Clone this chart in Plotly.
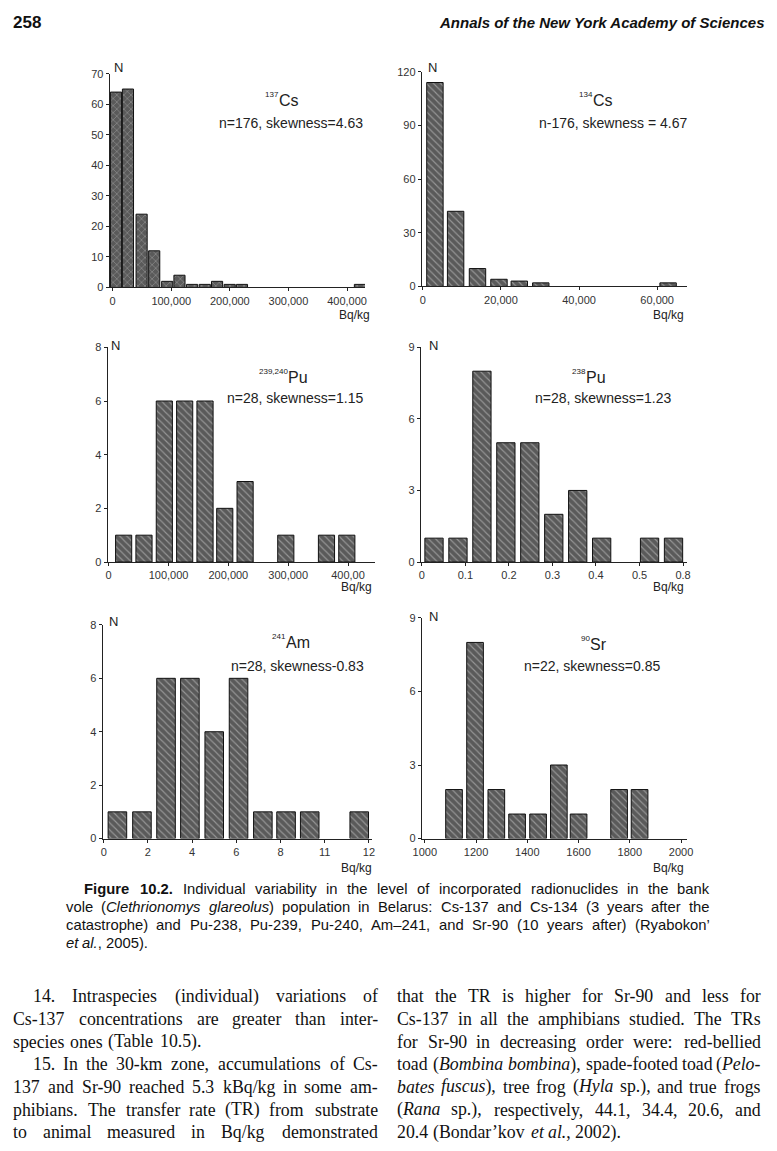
import re
import plotly.graph_objects as go

# page is 777x1151; the html body keeps an 8px margin, so the figure is drawn 16px smaller
PAGE_W, PAGE_H = 777, 1151
OX, OY = 8, 8
W, H = PAGE_W - 2 * OX, PAGE_H - 2 * OY
# measured placement of the rendered page inside the photograph (screen = C + S * page)
SX, CX = 0.983, 8.2
SY, CY = 0.991, 5.2

# ---------------- data ----------------
cs137_x = [5700, 26100, 49400, 70900, 93100, 114000, 135600, 157200, 178200, 199700, 220700, 422000]
cs137_n = [64, 65, 24, 12, 2, 4, 1, 1, 2, 1, 1, 1]
cs137_xticks = [0, 100000, 200000, 300000, 400000]
cs137_xlabels = ["0", "100,000", "200,000", "300,000", "400,000"]
cs137_yticks = [0, 10, 20, 30, 40, 50, 60, 70]

cs134_x = [3100, 8400, 14000, 19500, 24700, 30200, 62800]
cs134_n = [114, 42, 10, 4, 3, 2, 2]
cs134_xticks = [0, 20000, 40000, 60000]
cs134_xlabels = ["0", "20,000", "40,000", "60,000"]
cs134_yticks = [0, 30, 60, 90, 120]

pu239_x = [25000, 59000, 93000, 127000, 161000, 194000, 228000, 296000, 364000, 398000]
pu239_n = [1, 1, 6, 6, 6, 2, 3, 1, 1, 1]
pu239_xticks = [0, 100000, 200000, 300000, 400000]
pu239_xlabels = ["0", "100,000", "200,000", "300,000", "400,00"]
pu239_yticks = [0, 2, 4, 6, 8]

pu238_x = [0.028, 0.083, 0.138, 0.193, 0.248, 0.303, 0.358, 0.413, 0.523, 0.578]
pu238_n = [1, 1, 8, 5, 5, 2, 3, 1, 1, 1]
pu238_xticks = [0, 0.1, 0.2, 0.3, 0.4, 0.5, 0.6]
pu238_xlabels = ["0", "0.1", "0.2", "0.3", "0.4", "0.5", "0.8"]
pu238_yticks = [0, 3, 6, 9]

am241_x = [0.62, 1.73, 2.82, 3.9, 5.0, 6.1, 7.2, 8.25, 9.32, 11.56]
am241_n = [1, 1, 6, 6, 4, 6, 1, 1, 1, 1]
am241_xticks = [0, 2, 4, 6, 8, 10, 12]
am241_xlabels = ["0", "2", "4", "6", "8", "11", "12"]
am241_yticks = [0, 2, 4, 6, 8]

sr90_x = [1114, 1196, 1279, 1360, 1442, 1523, 1600, 1758, 1838]
sr90_n = [2, 8, 2, 1, 1, 3, 1, 2, 2]
sr90_xticks = [1000, 1200, 1400, 1600, 1800, 2000]
sr90_xlabels = ["1000", "1200", "1400", "1600", "1800", "2000"]
sr90_yticks = [0, 3, 6, 9]

panel_isotopes = [("137", "Cs"), ("134", "Cs"), ("239,240", "Pu"), ("238", "Pu"), ("241", "Am"), ("90", "Sr")]
panel_stats = ["n=176, skewness=4.63", "n-176, skewness = 4.67", "n=28, skewness=1.15",
               "n=28, skewness=1.23", "n=28, skewness-0.83", "n=22, skewness=0.85"]

header_left = "258"
header_right = "Annals of the New York Academy of Sciences"

caption_lines = [
    "<b>Figure 10.2.</b> Individual variability in the level of incorporated radionuclides in the bank",
    "vole (<i>Clethrionomys glareolus</i>) population in Belarus: Cs-137 and Cs-134 (3 years after the",
    "catastrophe) and Pu-238, Pu-239, Pu-240, Am–241, and Sr-90 (10 years after) (Ryabokon’",
    "<i>et al.</i>, 2005).",
]
left_lines = [
    "14. Intraspecies (individual) variations of",
    "Cs-137 concentrations are greater than inter-",
    "species ones (Table 10.5).",
    "15. In the 30-km zone, accumulations of Cs-",
    "137 and Sr-90 reached 5.3 kBq/kg in some am-",
    "phibians. The transfer rate (TR) from substrate",
    "to animal measured in Bq/kg demonstrated",
]
right_lines = [
    "that the TR is higher for Sr-90 and less for",
    "Cs-137 in all the amphibians studied. The TRs",
    "for Sr-90 in decreasing order were: red-bellied",
    "toad (<i>Bombina bombina</i>), spade-footed toad (<i>Pelo-</i>",
    "<i>bates fuscus</i>), tree frog (<i>Hyla</i> sp.), and true frogs",
    "(<i>Rana</i> sp.), respectively, 44.1, 34.4, 20.6, and",
    "20.4 (Bondar’kov <i>et al.</i>, 2002).",
]

# ---------------- geometry (pixels on the photographed page) ----------------
panels = [
    dict(x=cs137_x, n=cs137_n, w=19000, shape="x", xt=cs137_xticks, xl=cs137_xlabels, yt=cs137_yticks,
         axpx=(109, 365), cal=((0, 112), (400000, 347)), ypx=(287, 73),
         xe=279, ty=100, spos=(291, 122), npos=(113, 67), upos=(370, 315)),
    dict(x=cs134_x, n=cs134_n, w=4200, shape="\\", xt=cs134_xticks, xl=cs134_xlabels, yt=cs134_yticks,
         axpx=(422, 688), cal=((0, 423), (60000, 658)), ypx=(286, 71),
         xe=594, ty=100, spos=(614, 122), npos=(428, 67), upos=(685, 315)),
    dict(x=pu239_x, n=pu239_n, w=27000, shape="\\", xt=pu239_xticks, xl=pu239_xlabels, yt=pu239_yticks,
         axpx=(107, 375), cal=((0, 108), (400000, 348)), ypx=(562, 347),
         xe=288, ty=377, spos=(295, 398), npos=(110, 345), upos=(372, 587)),
    dict(x=pu238_x, n=pu238_n, w=0.042, shape="\\", xt=pu238_xticks, xl=pu238_xlabels, yt=pu238_yticks,
         axpx=(421, 688), cal=((0, 422), (0.6, 684)), ypx=(562, 347),
         xe=587, ty=377, spos=(604, 398), npos=(429, 345), upos=(685, 587)),
    dict(x=am241_x, n=am241_n, w=0.84, shape="\\", xt=am241_xticks, xl=am241_xlabels, yt=am241_yticks,
         axpx=(102, 372), cal=((0, 103), (12, 369)), ypx=(839, 625),
         xe=286, ty=643, spos=(297, 666), npos=(108, 622), upos=(372, 868)),
    dict(x=sr90_x, n=sr90_n, w=65, shape="\\", xt=sr90_xticks, xl=sr90_xlabels, yt=sr90_yticks,
         axpx=(422, 688), cal=((1000, 425), (2000, 682)), ypx=(839, 618),
         xe=591, ty=645, spos=(593, 666), npos=(429, 617), upos=(685, 868)),
]


def fx(px):
    return ((px - CX) / SX - OX) / W


def fy(py):
    return 1 - ((py - CY) / SY - OY) / H


AX_FONT = "Liberation Sans, Arial, sans-serif"
SERIF = "Liberation Serif, Times New Roman, serif"

fig = go.Figure()
annotations = []
layout = dict(width=W, height=H, margin=dict(l=0, r=0, t=0, b=0), autosize=False,
              paper_bgcolor="white", plot_bgcolor="white", showlegend=False)

for i, p in enumerate(panels, start=1):
    (d0, p0), (d1, p1) = p["cal"]
    k = (d1 - d0) / (p1 - p0)
    xr = [d0 + (p["axpx"][0] - p0) * k, d0 + (p["axpx"][1] - p0) * k]
    sfx = "" if i == 1 else str(i)
    fig.add_trace(go.Bar(
        x=p["x"], y=p["n"], width=p["w"], xaxis="x" + sfx, yaxis="y" + sfx,
        marker=dict(color="#5a5a5a", line=dict(color="#111111", width=1),
                    pattern=dict(shape=p["shape"], fgcolor="#d2d2d2", size=5, solidity=0.22,
                                 fillmode="overlay")),
        hoverinfo="skip"))
    common = dict(showline=True, linecolor="#222", linewidth=1, ticks="outside", ticklen=3,
                  tickcolor="#222", showgrid=False, zeroline=False,
                  tickfont=dict(family=AX_FONT, size=11, color="#333"), fixedrange=True)
    layout["xaxis" + sfx] = dict(domain=[fx(p["axpx"][0]), fx(p["axpx"][1])], anchor="y" + sfx,
                                 range=xr, tickmode="array", tickvals=p["xt"], ticktext=p["xl"], **common)
    layout["yaxis" + sfx] = dict(domain=[fy(p["ypx"][0]), fy(p["ypx"][1])], anchor="x" + sfx,
                                 range=[0, p["yt"][-1]], tickmode="array", tickvals=p["yt"], **common)
    sup, el = panel_isotopes[i - 1]
    annotations.append(dict(text=sup, x=fx(p["xe"] - 0.5), y=fy(p["ty"] - 6), xanchor="right",
                            yanchor="middle", font=dict(family=AX_FONT, size=8, color="#222")))
    annotations.append(dict(text=el, x=fx(p["xe"]), y=fy(p["ty"]), xanchor="left", yanchor="middle",
                            font=dict(family=AX_FONT, size=16, color="#222")))
    annotations.append(dict(text=panel_stats[i - 1], x=fx(p["spos"][0]), y=fy(p["spos"][1]),
                            xanchor="center", yanchor="middle",
                            font=dict(family=AX_FONT, size=14, color="#222")))
    annotations.append(dict(text="N", x=fx(p["npos"][0]), y=fy(p["npos"][1]), xanchor="left",
                            yanchor="middle", font=dict(family=AX_FONT, size=13, color="#222")))
    annotations.append(dict(text="Bq/kg", x=fx(p["upos"][0]), y=fy(p["upos"][1]), xanchor="right",
                            yanchor="middle", font=dict(family=AX_FONT, size=12, color="#222")))

# ---------------- text justification helpers ----------------
TIMES = dict(zip("abcdefghijklmnopqrstuvwxyz",
                 [444, 500, 444, 500, 444, 333, 500, 500, 278, 278, 500, 278, 778, 500, 500, 500, 500,
                  333, 389, 278, 500, 500, 722, 500, 500, 444]))
TIMES.update(zip("ABCDEFGHIJKLMNOPQRSTUVWXYZ",
                 [722, 667, 667, 722, 611, 556, 722, 722, 333, 389, 722, 611, 889, 722, 722, 556, 722,
                  667, 556, 611, 722, 722, 944, 722, 722, 611]))
TIMES.update({c: 500 for c in "0123456789"})
TIMES.update({" ": 250, ".": 250, ",": 250, ":": 278, ";": 278, "-": 333, "(": 333, ")": 333,
              "/": 278, "’": 333, "–": 500})
ARIAL = dict(zip("abcdefghijklmnopqrstuvwxyz",
                 [556, 556, 500, 556, 556, 278, 556, 556, 222, 222, 500, 222, 833, 556, 556, 556, 556,
                  333, 500, 278, 556, 500, 722, 500, 500, 500]))
ARIAL.update(zip("ABCDEFGHIJKLMNOPQRSTUVWXYZ",
                 [667, 667, 722, 722, 667, 611, 778, 722, 278, 500, 667, 556, 833, 722, 778, 667, 778,
                  722, 667, 611, 722, 667, 944, 667, 667, 611]))
ARIAL.update({c: 556 for c in "0123456789"})
ARIAL.update({" ": 278, ".": 278, ",": 278, ":": 278, ";": 278, "-": 333, "(": 333, ")": 333,
              "/": 278, "’": 222, "–": 556})


def split_words(line):
    out, open_tags = [], []
    for w in line.split(" "):
        prefix = "".join(f"<{t}>" for t in open_tags)
        bold = "b" in open_tags or "<b>" in w
        for m in re.finditer(r"<(/?)(\w+)>", w):
            if m.group(1):
                if m.group(2) in open_tags:
                    open_tags.remove(m.group(2))
            else:
                open_tags.append(m.group(2))
        suffix = "".join(f"</{t}>" for t in reversed(open_tags))
        out.append((prefix + w + suffix, re.sub(r"<[^>]+>", "", w), bold))
    return out


def wwidth(plain, table, bold, size, factor):
    return sum(table.get(c, 500) for c in plain) / 1000 * size * (1.08 if bold else 1.0) * factor


def place_line(line, x0, x1, y, table, size, family, justify, factor=1.0, color="#111"):
    words = split_words(line)
    widths = [wwidth(p, table, b, size, factor) for _, p, b in words]
    space = table[" "] / 1000 * size * factor
    if justify and len(words) > 1:
        gap = max((x1 - x0 - sum(widths)) / (len(words) - 1), space * 0.6)
    else:
        gap = space
    x = x0
    n = len(words)
    for j, ((txt, _, _), wd) in enumerate(zip(words, widths)):
        if j == 0:
            xa, xp = "left", x
        elif justify and j == n - 1:
            xa, xp = "right", x1
        elif justify:
            xa, xp = "center", x + wd / 2
        else:
            xa, xp = "left", x
        annotations.append(dict(text=txt, x=fx(xp), y=fy(y), xanchor=xa, yanchor="middle",
                                font=dict(family=family, size=size, color=color)))
        x += wd + gap


# header
annotations.append(dict(text=f"<b>{header_left}</b>", x=fx(12), y=fy(22), xanchor="left", yanchor="middle",
                        font=dict(family=AX_FONT, size=17, color="#111")))
annotations.append(dict(text=f"<b><i>{header_right}</i></b>", x=fx(766), y=fy(22), xanchor="right",
                        yanchor="middle", font=dict(family=AX_FONT, size=15, color="#111")))

# caption
cap_starts = [83, 65, 65, 65]
cap_y = [890, 908, 926, 944]
cap_size = 14.8
for j, ln in enumerate(caption_lines):
    place_line(ln, cap_starts[j], 711, cap_y[j], ARIAL, cap_size, AX_FONT, justify=(j < 3))

# body text (two columns)
body_y = [997 + 22.7 * j for j in range(7)]
left_starts = [32, 12, 12, 32, 12, 12, 12]
left_just = [True, True, False, True, True, True, True]
right_just = [True, True, True, True, True, True, False]
body_size = 17.8
serif_factor = 1.023
for j, ln in enumerate(left_lines):
    place_line(ln, left_starts[j], 378, body_y[j], TIMES, body_size, SERIF, left_just[j], serif_factor)
for j, ln in enumerate(right_lines):
    place_line(ln, 397, 762, body_y[j], TIMES, body_size, SERIF, right_just[j], serif_factor)

for a in annotations:
    a.update(xref="paper", yref="paper", showarrow=False, borderpad=0, borderwidth=0)
layout["annotations"] = annotations
fig.update_layout(**layout)
fig.write_html("out.html")
